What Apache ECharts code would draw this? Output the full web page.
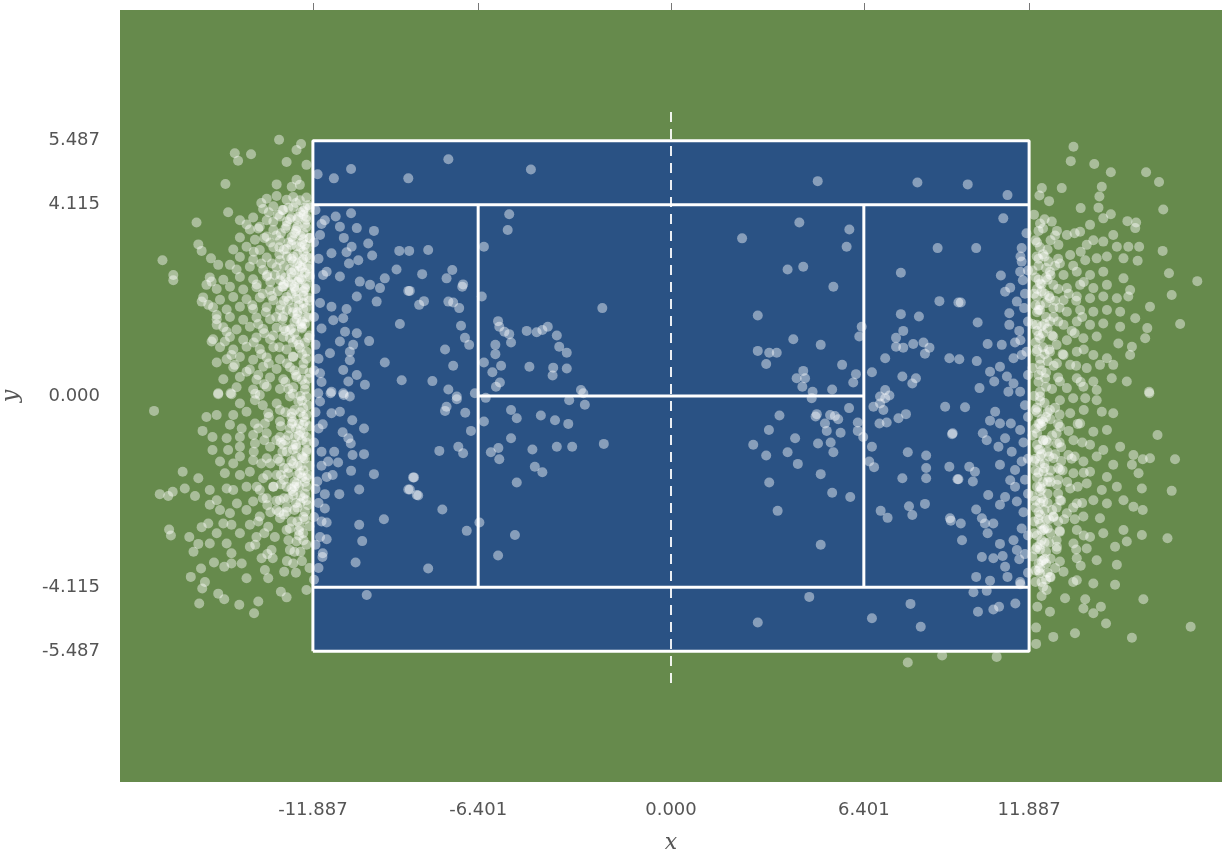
<!DOCTYPE html>
<html>
<head>
<meta charset="utf-8">
<script src="https://cdn.jsdelivr.net/npm/echarts@6/dist/echarts.min.js"></script>
<style>
  html, body { margin: 0; padding: 0; background: #fff; }
  #chart { width: 1225px; height: 854px; }
</style>
</head>
<body>
<div id="chart"></div>
<script>
// court geometry (metres)
var baseX = 11.887, serviceX = 6.401, doublesY = 5.487, singlesY = 4.115, netY = 6.17;
var xLimit = 18.29, yLimit = 8.30;
var xTicks = [-11.887, -6.401, 0, 6.401, 11.887];
var yTicks = [-5.487, -4.115, 0, 4.115, 5.487];

// shots landing inside / near the left half
var courtLeft = [
  [-11.73,4.77],[-11.19,4.68],[-10.62,4.88],[-8.72,4.68],[-7.39,5.09],[-4.65,4.87],
  [-11.49,3.78],[-11.13,3.86],[-10.62,3.93],[-10.99,3.64],[-10.43,3.61],[-9.86,3.55],[-11.65,3.46],
  [-10.86,3.40],[-10.05,3.28],[-10.60,3.21],[-11.27,3.07],[-10.77,3.09],[-9.92,3.02],[-10.38,2.92],
  [-10.69,2.85],[-9.02,3.12],[-8.69,3.12],[-9.11,2.72],[-9.50,2.53],[-8.72,2.26],[-11.43,2.67],
  [-10.99,2.57],[-10.33,2.46],[-9.99,2.39],[-9.66,2.32],[-10.43,2.14],[-9.77,2.03],[-10.77,1.87],
  [-11.27,1.92],[-9.00,1.55],[-11.21,1.63],[-10.88,1.67],[-10.82,1.38],[-10.43,1.35],[-10.02,1.18],
  [-10.99,1.17],[-10.55,1.10],[-10.66,0.95],[-11.32,0.92],[-9.50,0.72],[-10.66,0.77],[-10.88,0.56],
  [-10.43,0.45],[-10.71,0.31],[-8.94,0.34],[-10.16,0.24],[-11.27,0.09],[-10.88,0.06],[-11.65,0.49],
  [-8.36,1.96],[-8.06,3.14],[-8.26,2.62],[-8.67,2.26],[-8.20,2.04],[-7.45,2.53],[-7.26,2.71],
  [-6.90,2.40],[-6.93,2.35],[-7.39,2.03],[-7.23,2.01],[-7.03,1.89],[-6.97,1.51],[-6.84,1.25],
  [-6.70,1.10],[-7.50,1.00],[-7.23,0.65],[-7.92,0.32],[-7.39,0.14],[-7.11,-0.01],[-6.51,0.06],
  [-5.37,3.91],[-5.42,3.57],[-6.21,3.21],[-6.28,2.14],[-2.28,1.89],[-5.74,1.61],[-5.70,1.49],
  [-5.53,1.38],[-5.37,1.33],[-5.31,1.15],[-4.79,1.40],[-4.46,1.37],[-4.27,1.42],[-4.09,1.49],
  [-3.79,1.30],[-3.71,1.06],[-3.46,0.93],[-5.83,1.10],[-5.83,0.90],[-6.21,0.72],[-5.64,0.65],
  [-5.93,0.51],[-4.70,0.63],[-3.91,0.61],[-3.93,0.44],[-3.46,0.59],[-5.68,0.29],[-5.81,0.20],
  [-2.99,0.13],[-2.91,0.06],
  [-7.11,-0.07],[-7.45,-0.23],[-7.50,-0.32],[-6.83,-0.36],[-6.64,-0.75],[-7.69,-1.18],[-7.06,-1.09],
  [-6.90,-1.23],[-8.53,-1.75],[-8.67,-2.01],[-8.39,-2.14],[-7.59,-2.44],[-6.78,-2.90],[-8.06,-3.71],
  [-6.15,-0.04],[-6.21,-0.55],[-5.31,-0.30],[-5.12,-0.48],[-4.32,-0.42],[-3.85,-0.52],[-3.41,-0.60],
  [-3.38,-0.09],[-2.86,-0.19],[-5.31,-0.91],[-5.73,-1.12],[-5.98,-1.21],[-5.70,-1.36],[-4.60,-1.15],
  [-3.79,-1.09],[-3.28,-1.09],[-2.23,-1.03],[-4.52,-1.52],[-4.27,-1.64],[-5.12,-1.86],[-6.36,-2.72],
  [-5.18,-2.99],[-5.74,-3.43],
  [-11.71,0.06],[-11.30,0.06],[-10.86,0.02],[-10.66,-0.01],[-11.65,-0.12],[-11.27,-0.37],[-10.99,-0.34],
  [-11.56,-0.61],[-10.58,-0.52],[-10.19,-0.70],[-10.90,-0.78],[-10.71,-0.91],[-10.63,-1.02],[-11.60,-1.20],
  [-11.18,-1.20],[-10.57,-1.27],[-10.19,-1.25],[-11.38,-1.41],[-11.05,-1.43],[-11.43,-1.74],[-11.23,-1.70],
  [-10.62,-1.61],[-9.86,-1.68],[-11.74,-1.84],[-10.35,-2.01],[-11.49,-2.11],[-11.01,-2.11],[-8.56,-1.75],
  [-8.72,-2.01],[-8.44,-2.13],[-11.49,-2.42],[-9.53,-2.65],[-11.60,-2.70],[-11.43,-2.72],[-10.35,-2.77],
  [-11.65,-3.03],[-11.43,-3.08],[-10.25,-3.12],[-11.56,-3.38],[-11.57,-3.46],[-10.47,-3.58],
  [-10.10,-4.28],
  [-11.80,4.00],[-11.60,3.70],[-11.85,3.30],[-11.70,2.95],[-11.55,2.60],[-11.80,2.30],[-11.65,2.00],
  [-11.85,1.70],[-11.60,1.45],[-11.80,1.10],[-11.70,0.80],[-11.85,0.55],[-11.60,0.30],[-11.80,-0.35],
  [-11.70,-0.70],[-11.85,-1.00],[-11.60,-1.50],[-11.80,-2.00],[-11.70,-2.30],[-11.85,-2.60],[-11.80,-3.20],
  [-11.70,-3.70],[-11.85,-3.95]
];

// shots landing inside / near the right half
var courtRight = [
  [4.87,4.62],[8.18,4.59],[9.85,4.55],[11.17,4.32],
  [4.59,-4.32],[2.88,-4.87],[6.67,-4.78],[7.95,-4.47],[8.29,-4.96],[10.04,-4.22],[10.48,-4.19],
  [10.19,-4.64],[10.70,-4.59],[10.89,-4.53],[11.43,-4.46],[7.86,-5.73],[9.00,-5.58],[10.81,-5.61],
  [2.36,3.39],[4.26,3.73],[5.92,3.58],[5.83,3.21],[3.87,2.72],[4.39,2.78],[5.39,2.35],[2.88,1.73],
  [4.06,1.22],[4.97,1.10],[2.88,0.97],[3.26,0.93],[3.51,0.93],[3.16,0.69],[5.68,0.67],[4.39,0.54],
  [4.17,0.38],[4.45,0.38],[4.36,0.20],[4.70,0.09],[5.35,0.14],[6.14,0.47],[6.05,0.29],[6.33,1.49],
  [6.25,1.28],
  [8.85,3.18],[7.63,2.65],[8.91,2.04],[9.54,2.01],[7.63,1.76],[8.23,1.71],[7.71,1.40],[7.47,1.25],
  [7.47,1.06],[7.71,1.04],[8.04,1.12],[8.38,1.15],[8.58,1.04],[8.43,0.91],[7.11,0.81],[9.24,0.81],
  [6.67,0.51],[7.68,0.42],[8.13,0.38],[8.01,0.27],[7.11,0.13],[6.94,-0.01],[7.25,0.01],
  [3.60,-0.42],[3.25,-0.73],[2.73,-1.05],[3.16,-1.28],[4.12,-0.91],[3.87,-1.21],[4.21,-1.46],[3.26,-1.86],
  [3.54,-2.47],[4.84,-0.39],[4.80,-0.44],[5.11,-0.59],[5.17,-0.75],[5.28,-0.41],[5.55,-0.50],[5.44,-0.43],
  [5.63,-0.79],[4.88,-1.02],[5.30,-1.00],[5.39,-1.21],[4.97,-1.68],[5.35,-2.08],[5.95,-2.17],[4.97,-3.20],
  [5.91,-0.26],[6.20,-0.57],[6.20,-0.75],[6.38,-0.88],[4.67,-0.05],
  [6.72,-0.23],[6.94,-0.16],[7.11,-0.05],[7.05,-0.30],[6.92,-0.59],[7.16,-0.57],[7.55,-0.48],[7.80,-0.39],
  [9.10,-0.23],[9.33,-0.82],[6.67,-1.09],[6.58,-1.41],[6.74,-1.53],[7.86,-1.21],[8.47,-1.28],[8.47,-1.55],
  [8.47,-1.77],[7.68,-1.77],[9.24,-1.52],[9.51,-1.79],[7.90,-2.37],[8.01,-2.56],[8.43,-2.32],[6.96,-2.47],
  [7.19,-2.62],[9.29,-2.68],
  [11.03,3.82],[10.13,3.18],[11.64,3.18],[11.64,2.89],[11.59,2.67],[10.95,2.59],[11.68,2.49],[11.26,2.33],
  [11.09,2.24],[9.62,2.01],[11.48,2.03],[11.72,1.89],[11.23,1.78],[10.18,1.58],[11.23,1.53],[11.56,1.40],
  [10.51,1.12],[10.98,1.10],[11.42,1.15],[9.57,0.79],[10.15,0.75],[11.37,0.81],[11.64,0.88],[10.59,0.52],
  [10.92,0.63],[10.73,0.31],[11.15,0.42],[11.37,0.27],[10.24,0.17],[11.20,0.09],[11.59,0.09],
  [9.76,-0.24],[10.76,-0.34],[10.59,-0.53],[10.92,-0.59],[11.28,-0.59],[11.59,-0.73],[9.35,-0.80],[10.35,-0.80],
  [10.48,-0.95],[11.09,-0.91],[10.87,-1.09],[11.31,-1.20],[11.64,-1.41],[9.90,-1.52],[10.92,-1.48],[10.09,-1.63],
  [11.42,-1.59],[9.54,-1.79],[10.02,-1.84],[11.26,-1.81],[11.42,-1.95],[10.53,-2.13],[10.92,-2.34],[11.09,-2.17],
  [11.48,-2.27],[10.13,-2.44],[10.32,-2.63],[9.26,-2.63],[9.62,-2.74],[10.42,-2.74],[10.70,-2.74],[10.51,-2.95],
  [11.64,-2.85],[9.66,-3.10],[10.92,-3.18],[11.37,-3.10],[11.48,-3.31],[10.32,-3.46],[10.70,-3.49],[11.01,-3.44],
  [11.56,-3.51],[11.09,-3.67],[10.13,-3.89],[10.59,-3.97],[11.17,-3.89],[11.59,-4.00],
  [11.80,3.50],[11.60,3.00],[11.85,2.70],[11.75,2.20],[11.85,1.60],[11.60,1.20],[11.80,0.95],[11.85,0.45],
  [11.75,-0.20],[11.85,-0.45],[11.70,-1.00],[11.85,-1.35],[11.75,-1.80],[11.85,-2.10],[11.70,-2.50],
  [11.85,-3.00],[11.75,-3.40],[11.85,-3.80],[11.60,-4.05]
];

// shots behind the left baseline
var cloudLeft = [
  [-13.01,5.51],[-12.28,5.42],[-12.43,5.29],[-14.48,5.22],[-13.94,5.20],[-14.37,5.06],[-12.76,5.03],
  [-14.79,4.56],[-13.09,4.55],[-12.43,4.65],[-12.59,4.50],[-12.32,4.54],[-12.10,4.97],[-14.70,3.95],
  [-15.75,3.73],[-14.31,3.78],[-14.09,3.69],[-15.69,3.26],[-15.58,3.12],[-16.88,2.92],[-16.52,2.60],
  [-16.52,2.49],[-15.27,2.96],[-15.03,2.82],[-14.64,2.82],[-15.25,2.46],[-15.42,2.39],[-15.58,2.03],
  [-15.36,1.96],[-15.08,1.74],[-15.08,1.53],[-14.75,1.38],[-15.25,1.17],[-14.81,1.17],[-15.08,0.72],
  [-14.59,0.88],[-15.03,0.06],[-14.62,0.06],[-14.48,0.67],[-14.09,0.52],
  [-13.42,4.24],[-13.09,4.30],[-12.76,4.22],[-12.54,4.28],[-12.32,4.21],[-12.10,4.27],
  [-13.54,4.02],[-13.20,4.08],[-12.87,4.00],[-12.54,4.06],[-12.21,3.98],[-11.99,4.05],
  [-13.87,3.84],[-13.42,3.78],[-12.98,3.86],[-12.65,3.80],[-12.37,3.85],[-12.10,3.79],
  [-13.98,3.58],[-13.65,3.64],[-13.20,3.57],[-12.76,3.66],[-12.43,3.60],[-12.10,3.63],
  [-14.31,3.41],[-13.81,3.36],[-13.42,3.43],[-12.98,3.35],[-12.59,3.42],[-12.21,3.37],[-11.99,3.40],
  [-14.53,3.15],[-14.09,3.21],[-13.65,3.14],[-13.20,3.20],[-12.76,3.16],[-12.43,3.22],[-12.10,3.17],
  [-14.31,2.99],[-13.87,2.93],[-13.42,2.98],[-12.98,2.92],[-12.54,3.00],[-12.21,2.94],[-11.99,2.97],
  [-14.42,2.72],[-13.98,2.78],[-13.54,2.71],[-13.09,2.77],[-12.65,2.73],[-12.32,2.79],[-12.04,2.74],
  [-15.31,2.55],[-14.86,2.50],[-14.31,2.56],[-13.87,2.51],[-13.42,2.57],[-12.98,2.49],[-12.59,2.55],[-12.26,2.51],[-11.99,2.56],
  [-15.08,2.30],[-14.64,2.35],[-14.20,2.29],[-13.76,2.34],[-13.31,2.28],[-12.87,2.35],[-12.48,2.30],[-12.15,2.33],
  [-15.53,2.12],[-14.97,2.07],[-14.53,2.13],[-14.09,2.08],[-13.65,2.12],[-13.20,2.06],[-12.76,2.13],[-12.37,2.08],[-12.04,2.11],
  [-15.20,1.91],[-14.75,1.86],[-14.31,1.92],[-13.87,1.87],[-13.42,1.91],[-12.98,1.85],[-12.54,1.90],[-12.21,1.87],
  [-15.08,1.65],[-14.64,1.70],[-14.20,1.64],[-13.76,1.69],[-13.31,1.65],[-12.87,1.71],[-12.43,1.66],[-12.04,1.69],
  [-14.86,1.48],[-14.42,1.43],[-13.98,1.49],[-13.54,1.44],[-13.09,1.47],[-12.65,1.42],[-12.26,1.48],
  [-15.20,1.22],[-14.64,1.27],[-14.20,1.21],[-13.76,1.26],[-13.31,1.22],[-12.87,1.27],[-12.43,1.21],[-12.04,1.25],
  [-14.97,1.05],[-14.53,1.00],[-14.09,1.06],[-13.65,1.01],[-13.20,1.05],[-12.76,1.00],[-12.32,1.04],
  [-14.75,0.79],[-14.31,0.84],[-13.87,0.78],[-13.42,0.83],[-12.98,0.79],[-12.54,0.84],[-12.10,0.80],
  [-14.53,0.62],[-13.98,0.57],[-13.54,0.63],[-13.09,0.58],[-12.65,0.62],[-12.21,0.57],
  [-14.86,0.36],[-14.31,0.41],[-13.76,0.35],[-13.31,0.40],[-12.87,0.36],[-12.43,0.41],[-12.04,0.37],
  [-14.42,0.19],[-13.87,0.14],[-13.42,0.20],[-12.98,0.15],[-12.54,0.19],[-12.15,0.14],
  [-17.16,-0.32],[-15.03,0.04],[-14.59,0.04],[-15.55,-0.75],[-15.42,-0.45],[-15.22,-0.88],[-15.22,-1.16],
  [-16.21,-1.63],[-15.69,-1.77],[-16.97,-2.11],[-16.69,-2.15],[-16.54,-2.06],[-16.14,-1.99],[-15.80,-2.15],
  [-16.66,-2.87],[-16.60,-3.00],[-15.99,-3.03],[-15.69,-3.18],[-15.85,-3.35],[-15.58,-2.82],[-15.60,-3.71],
  [-15.94,-3.89],[-15.47,-4.00],[-15.56,-4.14],[-15.66,-4.46],[-15.03,-4.25],[-14.83,-4.37],[-14.33,-4.49],
  [-13.84,-4.67],[-13.70,-4.42],[-14.09,-3.92],[-13.37,-3.92],[-12.84,-3.78],[-12.95,-4.21],[-12.76,-4.33],
  [-12.10,-4.17],[-15.17,-3.58],[-14.83,-3.67],[-14.59,-3.60],[-14.25,-3.60],[-13.59,-3.49],[-13.22,-3.49],
  [-12.54,-3.60],[-13.48,-3.74],[-14.59,-3.38],[-13.98,-3.24],[-15.31,-3.17],[-14.75,-3.17],[-13.26,-3.31],
  [-12.65,-3.31],[-12.43,-3.13],[-15.08,-2.95],[-14.31,-2.95],[-13.76,-3.03],[-13.15,-3.03],[-12.76,-2.88],
  [-12.21,-2.95],[-15.36,-2.74],[-14.86,-2.74],[-14.59,-2.77],[-13.98,-2.77],[-13.37,-2.81],[-12.98,-2.63],
  [-12.59,-2.70],[-12.32,-2.81],[-14.97,-2.45],[-14.64,-2.52],[-14.09,-2.45],[-13.65,-2.59],[-13.09,-2.45],
  [-12.76,-2.49],[-12.15,-2.49],[-15.31,-2.34],[-15.08,-2.24],[-14.41,-2.31],[-13.87,-2.27],[-13.42,-2.20],
  [-12.98,-2.24],[-12.54,-2.13],[-12.10,-2.24],[-15.31,-2.02],[-14.75,-1.99],[-14.53,-2.02],[-14.09,-1.95],
  [-13.65,-2.02],[-13.20,-1.95],[-12.76,-1.95],[-12.43,-1.88],[-12.10,-1.95],[-14.81,-1.66],[-14.31,-1.70],
  [-13.98,-1.63],[-13.54,-1.77],[-13.09,-1.70],[-12.71,-1.66],[-12.32,-1.66],[-12.10,-1.77],[-14.97,-1.41],
  [-14.53,-1.45],[-14.31,-1.30],[-13.87,-1.38],[-13.42,-1.34],[-12.98,-1.41],[-12.54,-1.45],[-12.21,-1.34],
  [-14.70,-1.16],[-14.31,-1.09],[-13.81,-1.02],[-13.31,-1.09],[-12.87,-1.05],[-12.43,-1.12],[-12.10,-1.16],
  [-14.75,-0.91],[-14.31,-0.88],[-13.87,-0.84],[-13.42,-0.80],[-12.98,-0.88],[-12.48,-0.88],[-12.10,-0.88],
  [-14.64,-0.62],[-14.25,-0.70],[-13.81,-0.59],[-13.48,-0.59],[-12.98,-0.55],[-12.59,-0.59],[-12.21,-0.62],
  [-15.08,-0.41],[-14.53,-0.41],[-14.09,-0.34],[-13.37,-0.37],[-12.98,-0.30],[-12.59,-0.37],[-12.21,-0.26],
  [-14.31,-0.16],[-13.81,-0.09],[-13.65,0.02],[-13.09,-0.16],[-12.65,-0.01],[-12.37,-0.12],[-12.10,-0.01]
];
// extra density in the left core
var coreLeft = [
  [-12.05,4.10],[-12.30,3.95],[-12.60,3.85],[-12.15,3.70],[-12.45,3.55],[-12.00,3.40],[-12.70,3.30],
  [-12.30,3.20],[-12.10,3.00],[-12.55,2.90],[-12.25,2.75],[-12.00,2.60],[-12.80,2.55],[-12.40,2.45],
  [-12.15,2.30],[-12.60,2.20],[-12.00,2.05],[-12.35,1.95],[-12.75,1.85],[-12.10,1.70],[-12.50,1.60],
  [-12.25,1.45],[-12.00,1.30],[-12.65,1.25],[-12.35,1.10],[-12.10,0.95],[-12.55,0.85],[-12.20,0.70],
  [-12.00,0.50],[-12.45,0.45],[-12.15,0.25],[-12.70,0.15],[-12.30,0.00],[-12.05,-0.20],[-12.50,-0.30],
  [-12.20,-0.45],[-12.00,-0.65],[-12.65,-0.70],[-12.35,-0.85],[-12.10,-1.00],[-12.55,-1.15],[-12.25,-1.30],
  [-12.00,-1.50],[-12.70,-1.55],[-12.40,-1.70],[-12.15,-1.85],[-12.60,-2.00],[-12.30,-2.15],[-12.05,-2.35],
  [-12.50,-2.45],[-12.20,-2.60],[-12.00,-2.80],[-12.65,-2.85],[-12.35,-3.00],[-12.10,-3.20],[-12.50,-3.35],
  [-12.25,-3.55],[-12.00,-3.70],
  [-12.90,4.00],[-13.20,3.75],[-12.95,3.50],[-13.30,3.30],[-13.00,3.05],[-12.85,2.80],[-13.15,2.60],
  [-12.90,2.35],[-13.25,2.15],[-12.95,1.95],[-13.10,1.70],[-12.85,1.45],[-13.20,1.30],[-13.00,1.05],
  [-13.10,-0.95],[-12.90,-1.20],[-13.30,-1.45],[-12.95,-1.70],[-13.20,-1.95],[-12.85,-2.20],[-13.40,-2.35],
  [-13.00,-2.50],
  [-13.60,4.15],[-13.35,3.95],[-13.70,3.60],[-13.50,3.40],[-13.85,3.10],[-13.60,2.85],[-13.40,2.60],
  [-13.75,2.40],[-13.55,2.20],[-13.90,1.95],[-13.45,1.80],[-13.70,1.55],[-13.50,1.35],[-13.85,1.15],
  [-13.60,0.90],[-13.35,0.70],[-13.70,0.45],[-13.50,0.25],[-13.80,0.05],[-13.55,-0.20],[-13.35,-0.45],
  [-13.70,-0.70],[-13.50,-0.95],[-13.85,-1.20],[-13.60,-1.45],[-13.40,-1.70],[-13.75,-1.95],[-13.55,-2.20],
  [-13.30,-2.50],[-13.70,-2.70],[-13.50,-2.95],[-13.80,-3.20],[-13.40,-3.40],
  [-12.45,4.15],[-12.20,3.90],[-12.75,3.75],[-12.50,3.50],[-12.25,3.30],[-12.85,3.15],[-12.60,2.95],
  [-12.35,2.70],[-12.70,2.45],[-12.45,2.25],[-12.20,2.00],[-12.85,2.05],[-12.55,1.80],[-12.30,1.55],
  [-12.80,1.40],[-12.55,1.15],[-12.25,0.90],[-12.75,0.70],[-12.50,0.55],[-12.25,0.35],[-12.80,0.30],
  [-12.55,0.05],[-12.25,-0.10],[-12.80,-0.35],[-12.55,-0.55],[-12.30,-0.75],[-12.80,-0.95],[-12.45,-1.30],
  [-12.20,-1.60],[-12.85,-1.80],[-12.55,-2.05],[-12.30,-2.30],[-12.85,-2.55],[-12.40,-2.70],[-12.70,-3.10],
  [-12.30,-3.35],[-12.75,-3.55],[-12.45,-3.80],
  [-12.15,4.05],[-12.70,4.05],[-13.05,3.90],[-12.40,3.80],[-12.80,3.60],[-13.10,3.45],[-12.30,3.45],
  [-12.60,3.25],[-13.00,3.20],[-12.20,3.10],[-12.75,3.00],[-12.40,2.85],[-13.25,2.85],[-12.05,2.80],
  [-12.60,2.65],[-12.95,2.60],[-12.30,2.55],[-12.10,2.40],[-12.85,2.40],[-12.50,2.35],[-13.30,2.45],
  [-12.20,2.15],[-12.70,2.05],[-13.05,2.25],[-12.40,1.75],[-12.90,1.65],[-12.15,1.55],[-12.60,1.45],
  [-12.10,-0.40],[-12.60,-0.45],[-12.95,-0.65],[-12.35,-0.60],[-12.70,-0.85],[-12.20,-0.80],[-12.95,-1.00],
  [-12.45,-1.05],[-12.75,-1.20],[-12.10,-1.20],[-12.60,-1.40],[-13.05,-1.35],[-12.30,-1.50],[-12.85,-1.55],
  [-12.50,-1.85],[-12.05,-1.70],[-12.95,-1.90],[-12.35,-1.95],[-12.70,-2.20],[-12.15,-2.10],[-13.10,-2.25],
  [-12.45,-2.30],[-12.75,-2.40],
  [-12.10,3.85],[-12.40,3.65],[-12.20,3.50],[-12.55,3.35],[-12.15,3.25],[-12.40,3.05],[-12.25,2.90],
  [-12.50,2.70],[-12.15,2.65],[-12.35,2.50],[-12.60,2.40],[-12.20,2.25],[-12.45,2.10],[-12.10,1.90],
  [-12.40,1.80],[-12.25,1.60],[-12.50,1.35],[-12.15,1.15],
  [-12.30,-0.35],[-12.15,-0.55],[-12.45,-0.70],[-12.25,-0.95],[-12.55,-1.05],[-12.15,-1.35],[-12.40,-1.50],
  [-12.25,-1.75],[-12.50,-1.95],[-12.20,-2.20],[-12.40,-2.40],[-12.15,-2.65],[-12.35,-2.90],[-12.20,-3.10]
];

// shots behind the right baseline
var cloudRight = [
  [13.36,5.36],[13.27,5.05],[14.05,4.99],[14.60,4.81],[15.77,4.81],[16.20,4.60],[12.31,4.47],[12.23,4.31],
  [12.97,4.47],[14.30,4.50],[14.22,4.29],[12.55,4.19],[13.60,4.04],[14.19,4.05],[14.60,3.91],[16.34,4.01],
  [14.35,3.82],[15.15,3.76],[15.44,3.73],[15.41,3.61],[12.25,3.71],[12.64,3.75],[12.81,3.55],[13.14,3.46],
  [13.58,3.53],[13.91,3.68],[14.02,3.35],[14.35,3.32],[14.68,3.46],[12.86,3.25],[13.80,3.25],[14.80,3.21],
  [15.18,3.21],[15.54,3.21],[16.32,3.12],[12.14,3.00],[12.53,2.89],[12.91,2.85],[13.25,3.03],[13.75,2.92],
  [14.13,2.96],[14.47,3.00],[15.02,2.96],[15.49,2.91],[16.53,2.64],[17.47,2.47],[12.58,2.67],[13.03,2.60],
  [13.47,2.67],[13.91,2.60],[14.35,2.67],[15.02,2.53],[12.25,2.42],[12.69,2.39],[13.14,2.32],[13.58,2.39],
  [14.02,2.32],[14.47,2.39],[15.24,2.28],[16.62,2.17],[12.14,2.14],[12.58,2.10],[13.03,2.06],[13.47,2.14],
  [13.91,2.10],[14.35,2.14],[14.80,2.10],[15.18,2.14],[15.90,1.92],[12.25,1.85],[12.69,1.89],[13.14,1.81],
  [13.58,1.85],[14.02,1.81],[14.47,1.85],[14.91,1.81],[15.41,1.67],[16.90,1.55],[12.14,1.53],[12.58,1.60],
  [13.03,1.53],[13.47,1.60],[13.91,1.53],[14.35,1.56],[14.91,1.49],[15.81,1.46],[12.25,1.24],[12.69,1.28],
  [13.14,1.20],[13.69,1.24],[14.13,1.28],[14.85,1.13],[15.30,1.06],[15.74,1.24],[12.14,0.95],[12.58,0.95],
  [13.03,0.88],[13.47,0.95],[14.02,0.88],[14.47,0.81],[15.24,0.88],[12.25,0.67],[12.81,0.70],[13.25,0.67],
  [13.80,0.60],[14.24,0.67],[14.68,0.67],[12.42,0.38],[12.91,0.31],[13.47,0.38],[14.02,0.31],[14.63,0.38],
  [15.13,0.31],[12.25,0.09],[13.14,0.17],[13.69,0.20],[14.13,0.13],[15.87,0.09],
  [15.88,0.06],[12.25,-0.01],[12.91,-0.09],[13.75,-0.05],[14.13,-0.09],[12.58,-0.30],[13.25,-0.37],[14.30,-0.34],
  [14.68,-0.37],[12.25,-0.59],[12.91,-0.66],[13.58,-0.59],[14.02,-0.77],[14.47,-0.73],[16.15,-0.84],[12.36,-0.95],
  [12.81,-1.02],[13.36,-0.95],[13.91,-1.05],[14.35,-1.16],[14.91,-1.09],[12.25,-1.30],[12.69,-1.34],[13.19,-1.27],
  [13.69,-1.41],[14.13,-1.30],[14.68,-1.48],[15.35,-1.27],[15.66,-1.36],[15.90,-1.34],[16.73,-1.36],[12.36,-1.63],
  [12.91,-1.59],[13.36,-1.66],[13.91,-1.63],[14.47,-1.74],[15.30,-1.48],[15.52,-1.66],[12.25,-1.95],[12.81,-1.91],
  [13.25,-1.99],[13.80,-1.88],[14.30,-2.02],[14.80,-1.95],[15.63,-1.99],[16.62,-2.04],[12.36,-2.27],[12.91,-2.24],
  [13.47,-2.31],[14.02,-2.24],[14.47,-2.31],[15.02,-2.24],[15.35,-2.38],[15.66,-2.45],[12.25,-2.56],[12.69,-2.59],
  [13.14,-2.52],[13.69,-2.59],[14.24,-2.63],[15.02,-2.88],[15.63,-2.99],[16.48,-3.06],[12.36,-2.88],[12.91,-2.92],
  [13.47,-2.88],[13.91,-3.03],[14.35,-2.95],[15.13,-3.13],[12.25,-3.20],[12.81,-3.24],[13.36,-3.17],[13.80,-3.28],
  [14.74,-3.24],[12.36,-3.53],[12.91,-3.56],[13.47,-3.49],[14.13,-3.53],[14.80,-3.63],[12.25,-3.81],[12.58,-3.89],
  [13.03,-3.78],[13.47,-3.96],[14.02,-4.03],[14.74,-4.06],[12.47,-4.17],[13.08,-4.35],[13.75,-4.37],[15.68,-4.37],
  [12.16,-4.53],[12.58,-4.64],[13.69,-4.57],[14.27,-4.53],[14.02,-4.67],[14.44,-4.89],[12.12,-4.98],[12.69,-5.18],
  [13.41,-5.10],[15.30,-5.20],[17.25,-4.96],[12.12,-5.33]
];
// extra density in the right core
var coreRight = [
  [12.05,3.90],[12.35,3.60],[12.10,3.35],[12.50,3.15],[12.20,2.95],[12.00,2.70],[12.60,2.60],[12.30,2.40],
  [12.05,2.20],[12.45,2.00],[12.15,1.80],[12.70,1.70],[12.00,1.55],[12.35,1.35],[12.10,1.15],[12.55,1.00],
  [12.25,0.80],[12.00,0.60],[12.45,0.50],[12.20,0.30],[12.65,0.15],[12.05,0.00],[12.40,-0.15],[12.15,-0.35],
  [12.60,-0.50],[12.30,-0.65],[12.00,-0.85],[12.50,-1.00],[12.20,-1.15],[12.75,-1.25],[12.05,-1.40],[12.40,-1.55],
  [12.15,-1.75],[12.60,-1.85],[12.30,-2.00],[12.00,-2.15],[12.50,-2.30],[12.20,-2.50],[12.70,-2.60],[12.05,-2.70],
  [12.40,-2.85],[12.15,-3.00],[12.55,-3.15],[12.25,-3.30],[12.00,-3.45],[12.45,-3.60],[12.20,-3.75],[12.60,-3.90],
  [12.10,-4.00],[12.35,-4.10],
  [12.90,-0.40],[13.20,-0.75],[12.95,-1.10],[13.30,-1.35],[13.00,-1.60],[13.15,-1.85],[12.85,-2.10],[13.35,-2.40],
  [13.05,-2.65],[12.90,-2.90],[13.20,2.20],[12.90,1.90],[13.30,1.40],[13.00,0.90],
  [13.40,3.50],[13.60,3.10],[13.35,2.80],[13.70,2.45],[13.45,2.05],[13.65,1.70],[13.40,1.35],[13.70,1.00],
  [13.45,0.65],[13.60,0.30],[13.35,-0.05],[13.70,-0.30],[13.50,-0.60],[13.65,-1.00],[13.40,-1.30],[13.70,-1.65],
  [13.50,-1.95],[13.65,-2.30],[13.40,-2.65],[13.70,-3.00],[13.45,-3.30],[13.60,-3.65],[13.35,-4.00],
  [12.40,3.80],[12.75,3.45],[12.25,3.20],[12.85,2.95],[12.45,2.75],[12.20,2.50],[12.85,2.30],[12.55,2.15],
  [12.25,1.95],[12.85,1.60],[12.50,1.45],[12.20,1.30],[12.80,1.10],[12.40,0.90],[12.70,0.65],[12.20,0.45],
  [12.85,0.40],[12.45,0.20],[12.25,-0.10],[12.75,-0.25],[12.45,-0.45],[12.20,-0.60],[12.80,-0.80],[12.50,-1.20],
  [12.25,-1.45],[12.85,-1.55],[12.55,-1.75],[12.25,-2.30],[12.80,-2.40],[12.55,-2.65],[12.30,-2.90],[12.80,-3.10],
  [12.45,-3.35],[12.20,-3.60],[12.75,-3.70],[12.45,-3.95],[12.30,-4.30],
  [12.15,-0.25],[12.50,-0.35],[12.85,-0.60],[12.30,-0.50],[12.10,-0.70],[12.65,-0.85],[12.35,-0.95],[12.90,-1.00],
  [12.15,-1.05],[12.55,-1.30],[12.30,-1.25],[12.95,-1.40],[12.10,-1.60],[12.60,-1.60],[12.35,-1.85],[12.85,-1.80],
  [12.15,-1.95],[12.50,-2.10],[12.95,-2.25],[12.30,-2.20],[12.65,-2.45],[12.10,-2.40],[12.45,-2.65],[12.85,-2.70],
  [12.25,-2.75],[12.60,-2.95],[12.05,-2.95],[12.40,-3.15],[12.80,-3.30],[12.15,-3.25],[12.60,-3.50],[12.30,-3.55],
  [12.10,-3.75],[12.50,-3.80],[12.30,-4.00],
  [12.20,3.55],[12.60,3.35],[12.35,3.05],[12.75,2.80],[12.10,2.55],[12.50,2.50],[12.30,2.25],[12.75,2.05],
  [12.10,1.95],[12.45,1.70],[12.30,1.50],[12.65,1.30],[12.15,1.00],[12.50,0.75],[12.30,0.55],
  [12.10,-0.30],[12.35,-0.55],[12.15,-0.80],[12.45,-0.95],[12.25,-1.15],[12.10,-1.35],[12.40,-1.45],[12.20,-1.65],
  [12.50,-1.85],[12.25,-2.05],[12.10,-2.25],[12.40,-2.45],[12.20,-2.65],[12.50,-2.85],[12.30,-3.10],[12.10,-3.30],
  [12.40,-3.50],[12.25,-3.70],
  [12.15,3.30],[12.40,3.00],[12.20,2.80],[12.45,2.55],[12.15,2.30],[12.40,2.20],[12.20,1.85],[12.40,1.55],
  [12.15,1.40],[12.35,1.05]
];

var shots = [].concat(cloudLeft, coreLeft, courtLeft, courtRight, cloudRight, coreRight);

// court line segments built from the geometry
var courtSegments = [
  [[-baseX, -doublesY], [baseX, -doublesY], [baseX, doublesY], [-baseX, doublesY], [-baseX, -doublesY]],
  [[-baseX, singlesY], [baseX, singlesY]],
  [[-baseX, -singlesY], [baseX, -singlesY]],
  [[-serviceX, -singlesY], [-serviceX, singlesY]],
  [[serviceX, -singlesY], [serviceX, singlesY]],
  [[-serviceX, 0], [serviceX, 0]]
];

var labelFont = { fontFamily: 'DejaVu Sans', fontSize: 18, color: '#555555' };
var fmt = function (v) { return Number(v).toFixed(3); };

var series = courtSegments.map(function (seg, i) {
  var s = {
    type: 'line',
    data: seg,
    symbol: 'none',
    silent: true,
    z: 2,
    lineStyle: { color: '#ffffff', width: 3 },
    animation: false
  };
  if (i === 0) {
    s.markArea = {
      silent: true,
      itemStyle: { color: '#2a5284' },
      data: [[{ coord: [-baseX, -doublesY] }, { coord: [baseX, doublesY] }]]
    };
  }
  return s;
});

series.push({
  type: 'line',
  data: [[0, -netY], [0, netY]],
  symbol: 'none',
  silent: true,
  z: 3,
  lineStyle: { color: 'rgba(255,255,255,0.9)', width: 2, type: [10, 7] },
  animation: false
});

series.push({
  type: 'scatter',
  data: shots,
  symbol: 'circle',
  symbolSize: 10,
  z: 4,
  progressive: 0,
  itemStyle: { color: 'rgba(255,255,255,0.55)', borderWidth: 0 },
  animation: false
});

var myChart = echarts.init(document.getElementById('chart'));
var option = {
  animation: false,
  backgroundColor: '#ffffff',
  grid: {
    left: 120, top: 10, width: 1102, height: 772,
    containLabel: false,
    outerBoundsMode: 'none',
    show: true, backgroundColor: '#668a4c', borderWidth: 0
  },
  xAxis: [{
    type: 'value',
    min: -xLimit, max: xLimit,
    name: 'x',
    nameLocation: 'middle',
    nameGap: 50,
    nameTextStyle: { fontFamily: 'DejaVu Serif', fontStyle: 'italic', fontSize: 22, color: '#555555' },
    axisLine: { show: false },
    splitLine: { show: false },
    axisTick: { show: true, length: 7, customValues: xTicks, lineStyle: { color: '#777777' } },
    axisLabel: Object.assign({ customValues: xTicks, formatter: fmt, margin: 19 }, labelFont)
  }, {
    type: 'value',
    position: 'top',
    min: -xLimit, max: xLimit,
    axisLine: { show: false },
    splitLine: { show: false },
    axisTick: { show: true, length: 7, customValues: xTicks, lineStyle: { color: '#777777' } },
    axisLabel: { show: false }
  }],
  yAxis: {
    type: 'value',
    min: -yLimit, max: yLimit,
    name: 'y',
    nameLocation: 'middle',
    nameGap: 98,
    nameTextStyle: { fontFamily: 'DejaVu Serif', fontStyle: 'italic', fontSize: 22, color: '#555555' },
    axisLine: { show: false },
    splitLine: { show: false },
    axisTick: { show: true, length: 7, customValues: yTicks, lineStyle: { color: '#777777' } },
    axisLabel: Object.assign({ customValues: yTicks, formatter: fmt, margin: 20 }, labelFont)
  },
  series: series
};
myChart.setOption(option);
</script>
</body>
</html>
